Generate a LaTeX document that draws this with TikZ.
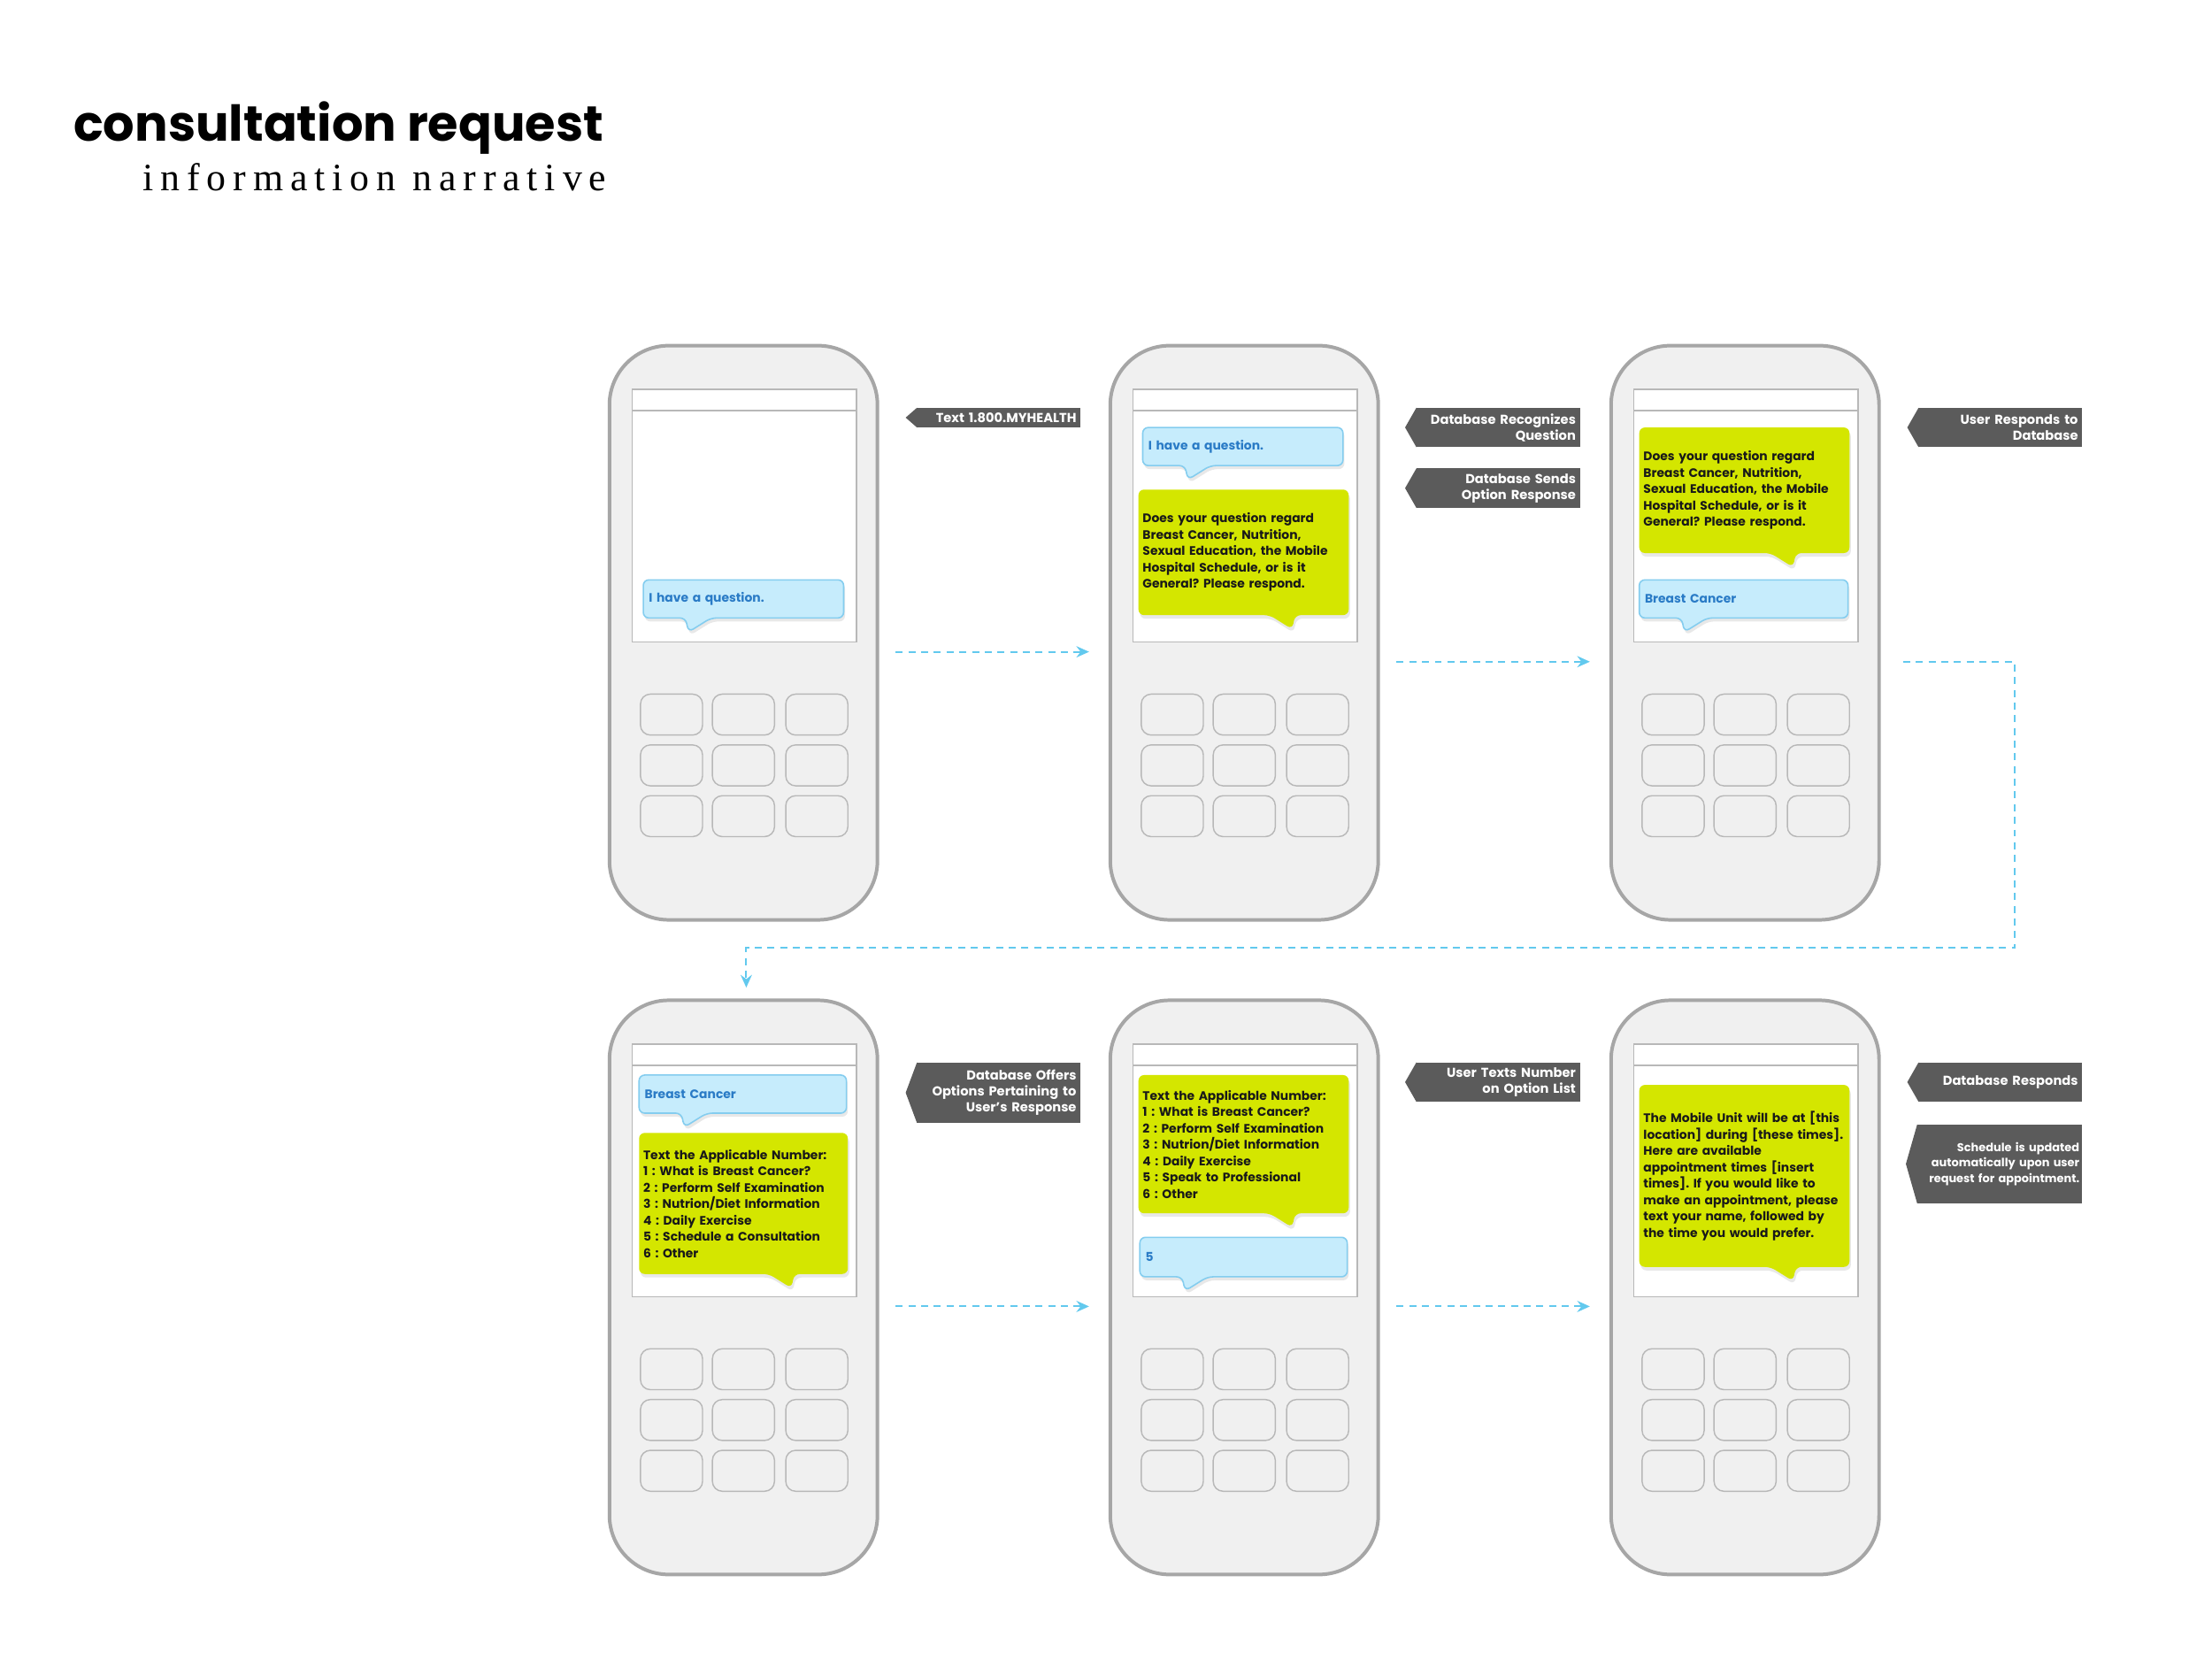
\documentclass[tikz,border=0pt]{standalone}
\usepackage{fontspec}
\setmainfont{Poppins}
\newfontfamily\serifsub{Liberation Serif}[LetterSpace=18]
\usepackage{tikz}
\usetikzlibrary{arrows.meta,calc,shadows,positioning}
\frenchspacing

\definecolor{bodygray}{HTML}{F0F0F0}
\definecolor{edgegray}{HTML}{A6A6A6}
\definecolor{keyedge}{HTML}{B8B8B8}
\definecolor{tagc}{HTML}{5B5B5B}
\definecolor{lime}{HTML}{D4E600}
\definecolor{skyfill}{HTML}{C6ECFC}
\definecolor{skyedge}{HTML}{84CDEF}
\definecolor{skytext}{HTML}{2A7BC6}
\definecolor{flowc}{HTML}{62C9EE}

\pgfdeclarelayer{bodies}
\pgfdeclarelayer{bubbles}
\pgfsetlayers{bodies,bubbles,main}

\newcommand{\msgfont}{\fontsize{8.7}{11.6}\selectfont\bfseries}
\newcommand{\tagfont}{\fontsize{9.2}{11.3}\selectfont\bfseries}

\tikzset{
  phone/.style={draw=edgegray, line width=2.5pt, fill=bodygray, rounded corners=42pt,
    minimum width=190pt, minimum height=407pt, inner sep=0pt, outer sep=0pt},
  screenc/.style={draw=edgegray!80, line width=0.9pt},
  keyc/.style={draw=keyedge, line width=0.9pt, fill=bodygray, rounded corners=7pt},
  skymsg/.style={anchor=north west, text width=#1, minimum height=27pt, inner xsep=4pt,
    inner ysep=0pt, outer sep=0pt, align=left, font=\msgfont, text=skytext},
  limemsg/.style={anchor=north west, text width=#1, inner xsep=3pt, inner ysep=0pt,
    outer sep=0pt, align=left, font=\msgfont, text=black!90},
  skybub/.style={fill=skyfill, draw=skyedge, line width=1pt, rounded corners=4pt,
    drop shadow={shadow xshift=1pt, shadow yshift=-2.5pt, opacity=.18}},
  limebub/.style={fill=lime, rounded corners=4pt,
    drop shadow={shadow xshift=1pt, shadow yshift=-2.5pt, opacity=.18}},
  tagbox/.style={fill=tagc, text=white, font=\tagfont, align=right, text width=110pt,
    inner xsep=3pt, inner ysep=0pt, outer sep=0pt, minimum height=#1, anchor=north east},
  tagbox/.default=14pt,
  flow/.style={flowc, line width=1.3pt, dash pattern=on 5pt off 4pt,
    -{Stealth[length=9pt,width=8pt,inset=3pt]}}
}

% handset body, screen and keypad, drawn at the origin of the current scope
\newcommand{\handset}[1]{%
  \begin{pgfonlayer}{bodies}
    \node[phone, anchor=north west] (#1) at (0,0) {};
    \filldraw[screenc, fill=white] (16,31) rectangle (175,210);
    \draw[screenc] (16,46) -- (175,46);
    \foreach \cx in {22,73,125}
      \foreach \cy in {247,283,319}
        \draw[keyc] (\cx,\cy) rectangle ++(44,29);
  \end{pgfonlayer}}

\begin{document}
\begin{tikzpicture}[x=1pt, y=-1pt]
  \useasboundingbox (0,0) rectangle (1568,1176);

  % ===== TITLE =====
  \node[anchor=base west, inner sep=0pt, font=\fontsize{35}{38}\selectfont\bfseries] (title) at (52,100) {consultation request};
  \node[anchor=base east, inner sep=0pt, font=\serifsub\fontsize{27.5}{30}\selectfont] (subtitle) at (430,135) {information narrative};

  % ===== PHONE 1: user texts the number =====
  \begin{scope}[shift={(432,245)}]
    \handset{ph1}
    \node[skymsg=134pt] (q1) at (24,166) {I have a question.};
    \node[tagbox] (t1) at (334,44) {Text 1.800.MYHEALTH};
  \end{scope}

  % ===== PHONE 2: database asks for a topic =====
  \begin{scope}[shift={(787,245)}]
    \handset{ph2}
    \node[skymsg=134pt] (q2) at (23,58) {I have a question.};
    \node[limemsg=143pt, minimum height=89pt] (a2) at (20,102)
      {Does your question regard\\Breast Cancer, Nutrition,\\Sexual Education, the Mobile\\Hospital Schedule, or is it\\General? Please respond.};
    \node[tagbox=28pt] (t2) at (333,44) {Database Recognizes\\Question};
    \node[tagbox=28pt] (t3) at (333,87) {Database Sends\\Option Response};
  \end{scope}

  % ===== PHONE 3: user picks a topic =====
  \begin{scope}[shift={(1142,245)}]
    \handset{ph3}
    \node[limemsg=143pt, minimum height=89pt] (a3) at (20,58)
      {Does your question regard\\Breast Cancer, Nutrition,\\Sexual Education, the Mobile\\Hospital Schedule, or is it\\General? Please respond.};
    \node[skymsg=140pt] (r3) at (20,166) {Breast Cancer};
    \node[tagbox=28pt] (t4) at (334,44) {User Responds to\\Database};
  \end{scope}

  % ===== PHONE 4: options for the topic =====
  \begin{scope}[shift={(432,709)}]
    \handset{ph4}
    \node[skymsg=139pt] (r4) at (21,53) {Breast Cancer};
    \node[limemsg=142pt, minimum height=100pt] (a4) at (21,94)
      {Text the Applicable Number:\\1 : What is Breast Cancer?\\2 : Perform Self Examination\\3 : Nutrion/Diet Information\\4 : Daily Exercise\\5 : Schedule a Consultation\\6 : Other};
    \node[tagbox=43pt] (t5) at (334,44) {Database Offers\\Options Pertaining to\\User's Response};
  \end{scope}

  % ===== PHONE 5: user texts a number =====
  \begin{scope}[shift={(787,709)}]
    \handset{ph5}
    \node[limemsg=143pt, minimum height=98pt] (a5) at (20,53)
      {Text the Applicable Number:\\1 : What is Breast Cancer?\\2 : Perform Self Examination\\3 : Nutrion/Diet Information\\4 : Daily Exercise\\5 : Speak to Professional\\6 : Other};
    \node[skymsg=139pt, minimum height=28pt] (r5) at (21,168) {5};
    \node[tagbox=28pt] (t6) at (333,44) {User Texts Number\\on Option List};
  \end{scope}

  % ===== PHONE 6: schedule reply =====
  \begin{scope}[shift={(1142,709)}]
    \handset{ph6}
    \node[limemsg=143pt, minimum height=129pt] (a6) at (20,60)
      {The Mobile Unit will be at [this\\location] during [these times].\\Here are available\\appointment times [insert\\times]. If you would like to\\make an appointment, please\\text your name, followed by\\the time you would prefer.};
    \node[tagbox=28pt] (t7) at (334,44) {Database Responds};
    \node[tagbox=56pt, text width=113pt, inner xsep=2pt, font=\fontsize{8.1}{10.8}\selectfont\bfseries] (t8) at (334,88)
      {Schedule is updated\\automatically upon user\\request for appointment.};
  \end{scope}

  % ===== bubbles and tag points =====
  \begin{pgfonlayer}{bubbles}
    \foreach \b in {q1,q2,r3,r4,r5}
      \path[skybub] (\b.south west) -- (\b.north west) -- (\b.north east) -- (\b.south east)
        -- ([xshift=48pt]\b.south west) -- ([xshift=32pt,yshift=-10pt]\b.south west)
        -- ([xshift=30pt]\b.south west) -- cycle;
    \foreach \b in {a2,a3,a4,a5,a6}
      \path[limebub] (\b.south west) -- (\b.north west) -- (\b.north east) -- (\b.south east)
        -- ([xshift=-38pt]\b.south east) -- ([xshift=-40pt,yshift=-10pt]\b.south east)
        -- ([xshift=-56pt]\b.south east) -- cycle;
  \end{pgfonlayer}
  \foreach \t in {t1,t2,t3,t4,t5,t6,t7,t8}
    \fill[tagc] (\t.north west) -- ([xshift=-8pt]\t.west) -- (\t.south west) -- cycle;

  % ===== flow =====
  \draw[flow] ([xshift=13pt,yshift=-13.5pt]ph1.east) -- ([xshift=-15pt,yshift=-13.5pt]ph2.west);
  \draw[flow] ([xshift=13pt,yshift=-20.5pt]ph2.east) -- ([xshift=-15pt,yshift=-20.5pt]ph3.west);
  \draw[flow] ([xshift=17pt,yshift=-20.5pt]ph3.east) -- ++(79,0) |- ([xshift=2pt,yshift=37pt]ph4.north)
    -- ([xshift=2pt,yshift=9pt]ph4.north);
  \draw[flow] ([xshift=13pt,yshift=-13.5pt]ph4.east) -- ([xshift=-15pt,yshift=-13.5pt]ph5.west);
  \draw[flow] ([xshift=13pt,yshift=-13.5pt]ph5.east) -- ([xshift=-15pt,yshift=-13.5pt]ph6.west);
\end{tikzpicture}
\end{document}
